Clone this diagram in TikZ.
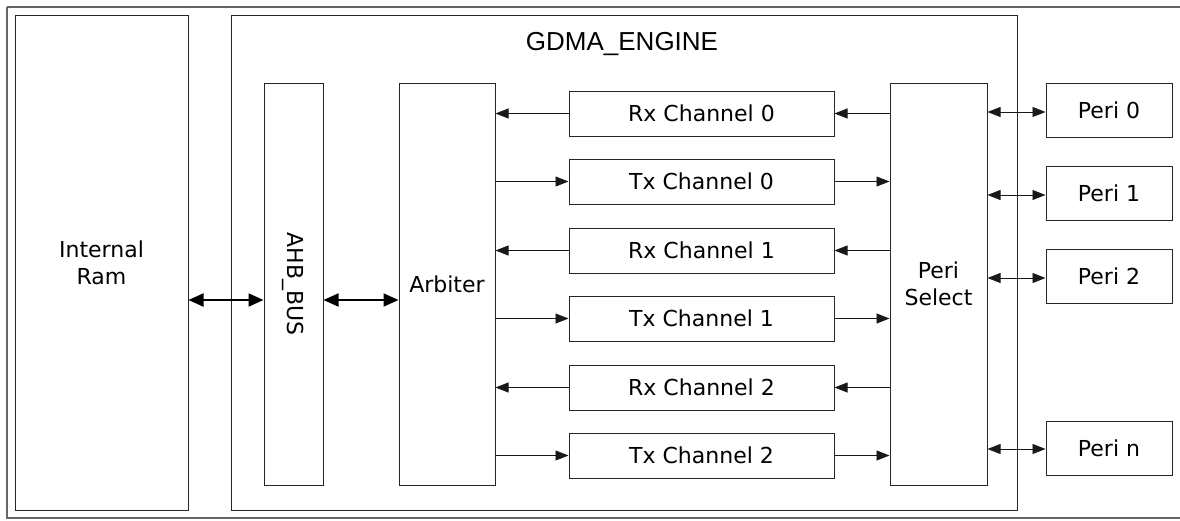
\documentclass[tikz,border=0pt]{standalone}
\usepackage{fontspec}
\setmainfont{DejaVu Sans}
\newfontfamily\arialf{Liberation Sans}
\usetikzlibrary{arrows.meta}
\begin{document}
\begin{tikzpicture}[x=1pt,y=-1pt,
  box/.style={draw=black!85,line width=1pt,inner sep=0pt,font=\fontsize{22}{27}\selectfont,align=center},
  thin/.style={line width=0.8pt,draw=black!90,{Triangle[length=13pt,width=10pt]}-{Triangle[length=13pt,width=10pt]}},
  one/.style={line width=0.8pt,draw=black!90,-{Triangle[length=13pt,width=10pt]}},
  thick/.style={line width=2pt,{Triangle[length=15pt,width=13pt]}-{Triangle[length=15pt,width=13pt]}}]
\useasboundingbox (0,0) rectangle (1180,520);
\draw[black!60,line width=1.5pt] (7,7) -- (1185,7) (7,7) -- (7,518) -- (1185,518);
\node[box,minimum width=173pt,minimum height=495pt] (ram) at (101.5,262.5) {Internal\\Ram};
\node[box,minimum width=786pt,minimum height=495pt] (eng) at (624,262.5) {};
\node[font=\arialf\fontsize{26}{31}\selectfont] (title) at (622,44) {GDMA\_ENGINE};
\node[box,minimum width=59pt,minimum height=402pt] (ahb) at (293.5,284) {};
\node[font=\fontsize{22}{27}\selectfont,rotate=-90] (ahbt) at (293.5,284) {AHB\_BUS};
\node[box,minimum width=96pt,minimum height=402pt] (arb) at (447,284) {Arbiter};
\node[box,minimum width=97pt,minimum height=402pt] (ps) at (938.5,284) {Peri\\Select};
\foreach \n/\t/\y in {r0/Rx Channel 0/113.5, t0/Tx Channel 0/181.5, r1/Rx Channel 1/250.5, t1/Tx Channel 1/318.5, r2/Rx Channel 2/387.5, t2/Tx Channel 2/455.5}
  \node[box,minimum width=265pt,minimum height=45pt] (\n) at (701.5,\y) {\t};
\foreach \n/\t/\y in {p0/Peri 0/110, p1/Peri 1/193, p2/Peri 2/276, pn/Peri n/448.5}
  \node[box,minimum width=126pt,minimum height=54pt] (\n) at (1109,\y) {\t};
\draw[thick] (ram.east |- 0,300) -- (ahb.west |- 0,300);
\draw[thick] (ahb.east |- 0,300) -- (arb.west |- 0,300);
\foreach \n in {r0,r1,r2} {
  \draw[one] (\n.west) -- (arb.east |- \n.west);
  \draw[one] (ps.west |- \n.east) -- (\n.east);
}
\foreach \n in {t0,t1,t2} {
  \draw[one] (arb.east |- \n.west) -- (\n.west);
  \draw[one] (\n.east) -- (ps.west |- \n.east);
}
\foreach \n/\y in {p0/112,p1/195,p2/278,pn/449}
  \draw[thin] (ps.east |- 0,\y) -- (\n.west |- 0,\y);
\end{tikzpicture}
\end{document}
